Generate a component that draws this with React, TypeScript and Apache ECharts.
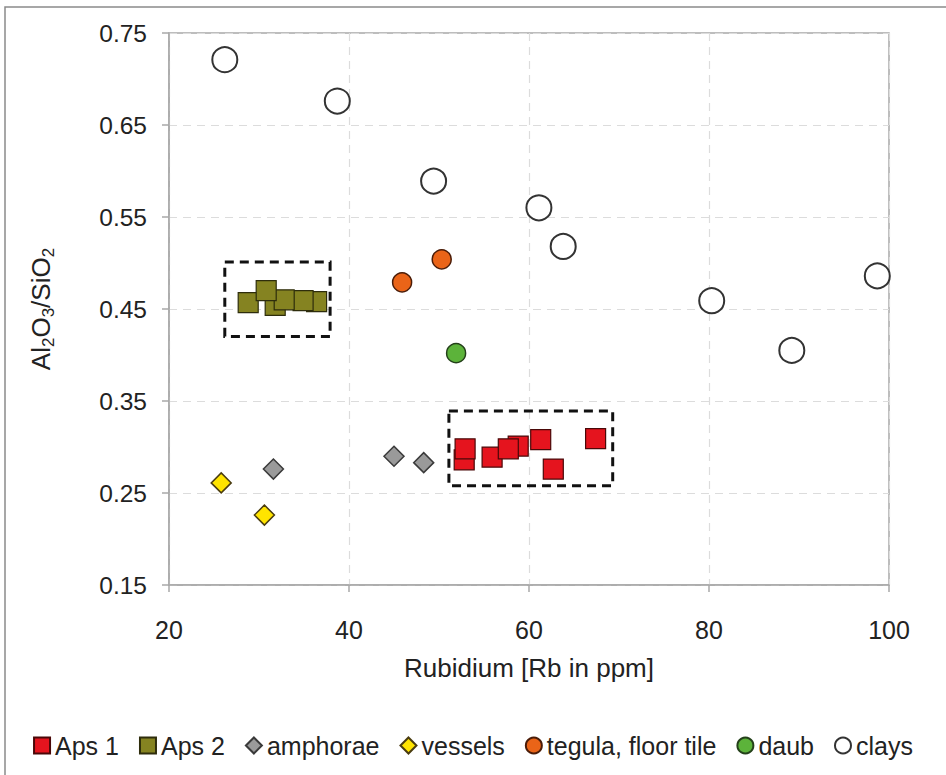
import React, { useEffect, useRef } from "react";
import * as echarts from "echarts";

const FONT = "Liberation Sans, Arial, sans-serif";

const aps1X = [52.8, 52.9, 55.9, 58.8, 57.7, 61.3, 62.7, 67.4];
const aps1Y = [0.286, 0.298, 0.289, 0.301, 0.298, 0.308, 0.276, 0.309];
const aps2X = [31.8, 36.4, 28.8, 34.9, 32.8, 30.8];
const aps2Y = [0.454, 0.458, 0.457, 0.459, 0.46, 0.47];
const amphoraeX = [31.6, 45.0, 48.3];
const amphoraeY = [0.276, 0.29, 0.283];
const vesselsX = [25.8, 30.6];
const vesselsY = [0.261, 0.226];
const tegulaX = [45.9, 50.3];
const tegulaY = [0.479, 0.504];
const daubX = [51.9];
const daubY = [0.402];
const claysX = [26.2, 38.7, 49.4, 61.1, 63.8, 80.3, 89.2, 98.7];
const claysY = [0.721, 0.676, 0.589, 0.56, 0.518, 0.459, 0.405, 0.486];

const aps1Box = [[51.1, 0.339], [69.3, 0.258]];
const aps2Box = [[26.2, 0.501], [37.9, 0.42]];

const zip = (xs: number[], ys: number[]) => xs.map((x, i) => [x, ys[i]]);

const boxStyle = {
  color: "rgba(0,0,0,0)",
  borderColor: "#111",
  borderWidth: 3,
  borderType: [9, 6],
};

export default function App() {
  const ref = useRef<HTMLDivElement>(null);
  useEffect(() => {
    document.body.style.margin = "0";
    const chart = echarts.init(ref.current!, null, { renderer: "svg" });
    const axisLine = { lineStyle: { color: "#a8a8a8", width: 1.5 } };
    chart.setOption({
      animation: false,
      backgroundColor: "#ffffff",
      graphic: [
        {
          type: "rect",
          shape: { x: 5, y: 7, width: 1000, height: 1000 },
          style: { fill: "none", stroke: "#8a8a8a", lineWidth: 1.5 },
          silent: true,
        },
      ],
      grid: {
        left: 169,
        right: 57,
        top: 33,
        bottom: 190,
        show: true,
        borderColor: "#a8a8a8",
        borderWidth: 1.5,
      },
      xAxis: {
        type: "value",
        min: 20,
        max: 100,
        interval: 20,
        name: "Rubidium [Rb in ppm]",
        nameLocation: "middle",
        nameGap: 70,
        nameTextStyle: { fontFamily: FONT, fontSize: 26, color: "#222" },
        axisLine,
        axisTick: { show: true, length: 7, lineStyle: { color: "#a8a8a8", width: 1.5 } },
        axisLabel: { fontFamily: FONT, fontSize: 25, color: "#222", margin: 32 },
        splitLine: { show: true, lineStyle: { color: "#dcdcdc", type: [8, 6], width: 1.2 } },
      },
      yAxis: {
        type: "value",
        min: 0.15,
        max: 0.75,
        interval: 0.1,
        name: "Al{s|2}O{s|3}/SiO{s|2}",
        nameLocation: "middle",
        nameGap: 112,
        nameTextStyle: {
          fontFamily: FONT,
          fontSize: 26,
          color: "#222",
          lineHeight: 32,
          rich: { s: { fontFamily: FONT, fontSize: 17, lineHeight: 15, verticalAlign: "bottom", color: "#222" } },
        },
        axisLine,
        axisTick: { show: true, length: 7, lineStyle: { color: "#a8a8a8", width: 1.5 } },
        axisLabel: {
          fontFamily: FONT,
          fontSize: 24.5,
          color: "#222",
          margin: 22,
          formatter: (v: number) => v.toFixed(2),
        },
        splitLine: { show: true, lineStyle: { color: "#dcdcdc", type: [8, 6], width: 1.2 } },
      },
      legend: {
        bottom: 12,
        left: "center",
        itemWidth: 16,
        itemHeight: 16,
        itemGap: 20,
        textStyle: { fontFamily: FONT, fontSize: 25, color: "#222" },
        data: [
          { name: "Aps 1", icon: "rect" },
          { name: "Aps 2", icon: "rect" },
          { name: "amphorae", icon: "diamond" },
          { name: "vessels", icon: "diamond" },
          { name: "tegula, floor tile", icon: "circle" },
          { name: "daub", icon: "circle" },
          { name: "clays", icon: "circle" },
        ],
      },
      series: [
        {
          name: "Aps 1",
          type: "scatter",
          symbol: "rect",
          symbolSize: 20,
          data: zip(aps1X, aps1Y),
          itemStyle: { color: "#e5141e", borderColor: "#4a0808", borderWidth: 1.2, opacity: 1 },
          markArea: {
            silent: true,
            itemStyle: boxStyle,
            data: [[{ coord: aps1Box[0] }, { coord: aps1Box[1] }]],
          },
        },
        {
          name: "Aps 2",
          type: "scatter",
          symbol: "rect",
          symbolSize: 20,
          data: zip(aps2X, aps2Y),
          itemStyle: { color: "#858321", borderColor: "#2e2d0c", borderWidth: 1.2, opacity: 1 },
          markArea: {
            silent: true,
            itemStyle: boxStyle,
            data: [[{ coord: aps2Box[0] }, { coord: aps2Box[1] }]],
          },
        },
        {
          name: "amphorae",
          type: "scatter",
          symbol: "diamond",
          symbolSize: 20,
          data: zip(amphoraeX, amphoraeY),
          itemStyle: { color: "#9a9a9a", borderColor: "#3a3a3a", borderWidth: 1.5, opacity: 1 },
        },
        {
          name: "vessels",
          type: "scatter",
          symbol: "diamond",
          symbolSize: 20,
          data: zip(vesselsX, vesselsY),
          itemStyle: { color: "#ffe400", borderColor: "#4a3c10", borderWidth: 1.5, opacity: 1 },
        },
        {
          name: "tegula, floor tile",
          type: "scatter",
          symbol: "circle",
          symbolSize: 19,
          data: zip(tegulaX, tegulaY),
          itemStyle: { color: "#ea6418", borderColor: "#4a1c08", borderWidth: 1.5, opacity: 1 },
        },
        {
          name: "daub",
          type: "scatter",
          symbol: "circle",
          symbolSize: 19,
          data: zip(daubX, daubY),
          itemStyle: { color: "#5cb33a", borderColor: "#24401a", borderWidth: 1.5, opacity: 1 },
        },
        {
          name: "clays",
          type: "scatter",
          symbol: "circle",
          symbolSize: 25,
          data: zip(claysX, claysY),
          itemStyle: { color: "#ffffff", borderColor: "#333333", borderWidth: 2, opacity: 1 },
        },
      ],
    });
    return () => chart.dispose();
  }, []);
  return <div ref={ref} style={{ width: 946, height: 775 }} />;
}
